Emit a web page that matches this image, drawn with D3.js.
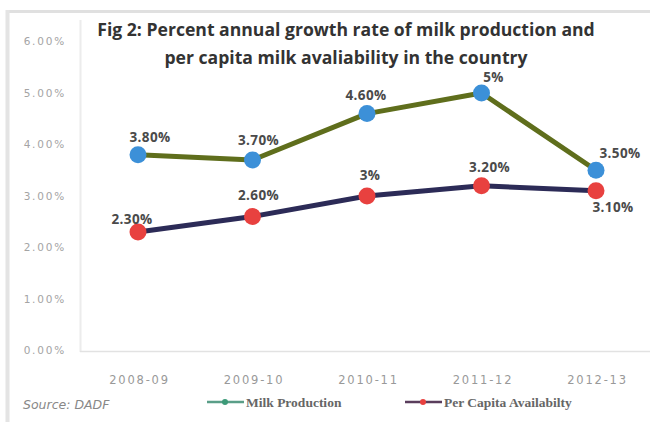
<!DOCTYPE html>
<html><head><meta charset="utf-8">
<script src="https://cdn.jsdelivr.net/npm/d3@7"></script>
<style>body{margin:0;background:#fff}svg{display:block}</style>
</head><body>
<svg id="c" width="650" height="422"></svg>
<script>
const categories = ["2008-09","2009-10","2010-11","2011-12","2012-13"];
const milkProduction = [3.8, 3.7, 4.6, 5.0, 3.5];
const perCapita = [2.3, 2.6, 3.0, 3.2, 3.1];
const milkLabels = ["3.80%","3.70%","4.60%","5%","3.50%"];
const capitaLabels = ["2.30%","2.60%","3%","3.20%","3.10%"];
const yTicks = [0,1,2,3,4,5,6];
const seriesNames = ["Milk Production","Per Capita Availabilty"];

const svg = d3.select("#c");
const W = 650, H = 422;
svg.append("rect").attr("width",W).attr("height",H).attr("fill","#fff");
// faint frame
svg.append("line").attr("x1",6).attr("x2",650).attr("y1",11.5).attr("y2",11.5).attr("stroke","#e0e0e0").attr("stroke-width",3);
svg.append("line").attr("x1",7.5).attr("x2",7.5).attr("y1",10).attr("y2",422).attr("stroke","#e4e4e4").attr("stroke-width",4);

const x = d3.scalePoint().domain(categories).range([138, 596]);
const y = d3.scaleLinear().domain([0,6]).range([350.5, 41.5]);

// plot-area border
svg.append("line").attr("x1",80.5).attr("x2",80.5).attr("y1",20).attr("y2",352).attr("stroke","#ececec").attr("stroke-width",2);
svg.append("line").attr("x1",80).attr("x2",650).attr("y1",351.5).attr("y2",351.5).attr("stroke","#e2e2e2").attr("stroke-width",1.5);

// y axis
const yAxis = d3.axisLeft(y).tickValues(yTicks).tickFormat(d=>d3.format(".2f")(d)+"%").tickSize(0).tickPadding(0);
const ya = svg.append("g").attr("transform","translate(66,0)").call(yAxis);
ya.select(".domain").remove();
ya.selectAll("text").attr("fill","#a4a4a4").style("font-family","'DejaVu Sans', sans-serif").style("font-size","10.5px").style("letter-spacing","1.8px");

// x axis
const xAxis = d3.axisBottom(x).tickSize(0).tickPadding(0);
const xa = svg.append("g").attr("transform","translate(1,384)").call(xAxis);
xa.select(".domain").remove();
xa.selectAll("text").attr("fill","#999").attr("dy","0").style("font-family","'DejaVu Sans', sans-serif").style("font-size","11.5px").style("letter-spacing","1.8px");

// title
const title = svg.append("text").attr("text-anchor","middle").attr("fill","#333")
  .style("font-family","'Open Sans', sans-serif").style("font-weight","bold").style("font-size","17.6px");
title.append("tspan").attr("x",346).attr("y",36).text("Fig 2: Percent annual growth rate of milk production and");
title.append("tspan").attr("x",346).attr("y",64).text("per capita milk avaliability in the country");

const line = d3.line().x((d,i)=>x(categories[i])).y(d=>y(d));
svg.append("path").datum(milkProduction).attr("d",line).attr("fill","none").attr("stroke","#5f6e1c").attr("stroke-width",5).attr("stroke-linejoin","round");
svg.append("path").datum(perCapita).attr("d",line).attr("fill","none").attr("stroke","#2c2b57").attr("stroke-width",5).attr("stroke-linejoin","round");

svg.selectAll("circle.m").data(milkProduction).enter().append("circle")
  .attr("cx",(d,i)=>x(categories[i])).attr("cy",d=>y(d)).attr("r",8.5).attr("fill","#3c90d8");
svg.selectAll("circle.p").data(perCapita).enter().append("circle")
  .attr("cx",(d,i)=>x(categories[i])).attr("cy",d=>y(d)).attr("r",8.5).attr("fill","#e8413f");

const lblStyle = s => s.attr("fill","#4a4a4a").style("font-family","'Open Sans', sans-serif").style("font-weight","bold").style("font-size","13.5px").style("letter-spacing","0.4px").attr("text-anchor","middle");
const mOff = [[12,-13],[6,-15],[-1,-14],[12,-11],[24,-12]];
const pOff = [[-6,-8],[6,-17],[3,-16],[8,-14],[17,21]];
svg.selectAll("text.ml").data(milkProduction).enter().append("text").call(lblStyle)
  .attr("x",(d,i)=>x(categories[i])+mOff[i][0]).attr("y",(d,i)=>y(d)+mOff[i][1]).text((d,i)=>milkLabels[i]);
svg.selectAll("text.pl").data(perCapita).enter().append("text").call(lblStyle)
  .attr("x",(d,i)=>x(categories[i])+pOff[i][0]).attr("y",(d,i)=>y(d)+pOff[i][1]).text((d,i)=>capitaLabels[i]);

// source
svg.append("text").attr("x",23).attr("y",409).attr("fill","#888").style("font-family","'DejaVu Sans', sans-serif")
  .style("font-style","italic").style("font-size","12.5px").text("Source: DADF");

// legend
const legend = [{x:207, line:"#5a9e88", dot:"#3c9a78", name:seriesNames[0]},{x:405, line:"#5a3d5c", dot:"#e8413f", name:seriesNames[1]}];
legend.forEach(l=>{
  svg.append("line").attr("x1",l.x).attr("x2",l.x+37).attr("y1",402).attr("y2",402).attr("stroke",l.line).attr("stroke-width",2.5);
  svg.append("circle").attr("cx",l.x+18).attr("cy",402).attr("r",3).attr("fill",l.dot);
  svg.append("text").attr("x",l.x+39).attr("y",407).attr("fill","#666").style("font-family","Liberation Serif, serif")
    .style("font-weight","bold").style("font-size","13.5px").text(l.name);
});
</script>
</body></html>
